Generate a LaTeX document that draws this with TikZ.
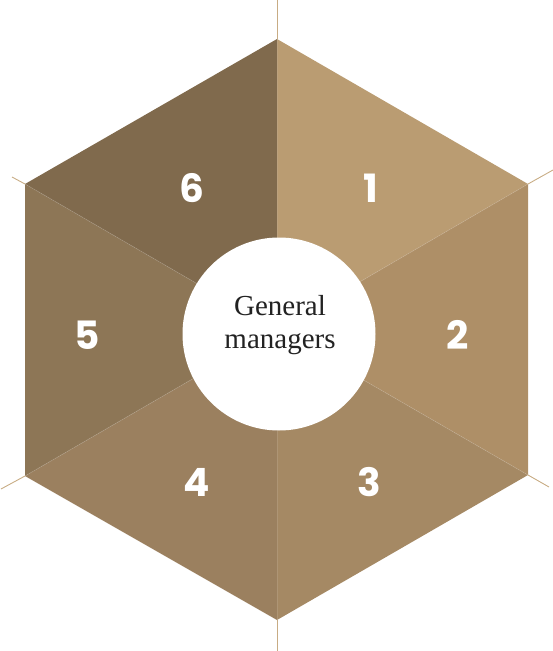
\documentclass[tikz,border=0pt]{standalone}
\usepackage{fontspec}
\setmainfont{Liberation Serif}
\newfontfamily\numfont{Poppins}
\definecolor{cA}{HTML}{BA9C72}
\definecolor{cB}{HTML}{AE8F67}
\definecolor{cC}{HTML}{A58964}
\definecolor{cD}{HTML}{9B805F}
\definecolor{cE}{HTML}{8D7656}
\definecolor{cF}{HTML}{806A4D}
\definecolor{lineC}{HTML}{C8AC84}
\definecolor{txtC}{HTML}{222222}
\tikzset{
  numlabel/.style={text=white, font=\numfont\bfseries\fontsize{39}{39}\selectfont, inner sep=0pt},
  outerline/.style={draw=lineC, line width=0.9pt},
  spoke/.style={draw=white, opacity=0.12, line width=0.8pt},
  centercircle/.style={circle, fill=white, minimum size=193pt, inner sep=0pt},
  centertext/.style={align=center, text=txtC, inner sep=0pt, font=\fontsize{29}{33}\selectfont}
}
\begin{document}
\begin{tikzpicture}[x=1pt,y=-1pt]
\useasboundingbox (0,0) rectangle (553,651);
\coordinate (O) at (277,330);
\coordinate (T) at (277,39);
\coordinate (RU) at (528,184);
\coordinate (RD) at (528,475);
\coordinate (B) at (277,620);
\coordinate (LD) at (25,476);
\coordinate (LU) at (25,184);
\coordinate (eT) at (277,0);
\coordinate (eRU) at (553,170);
\coordinate (eRD) at (549,487);
\coordinate (eB) at (277,651);
\coordinate (eLD) at (1,489);
\coordinate (eLU) at (12,177);
% extension lines
\draw[outerline] (T) -- (eT);
\draw[outerline] (RU) -- (eRU);
\draw[outerline] (RD) -- (eRD);
\draw[outerline] (B) -- (eB);
\draw[outerline] (LD) -- (eLD);
\draw[outerline] (LU) -- (eLU);
% segments
\fill[cA] (O) -- (T) -- (RU) -- cycle;
\fill[cB] (O) -- (RU) -- (RD) -- cycle;
\fill[cC] (O) -- (RD) -- (B) -- cycle;
\fill[cD] (O) -- (B) -- (LD) -- cycle;
\fill[cE] (O) -- (LD) -- (LU) -- cycle;
\fill[cF] (O) -- (LU) -- (T) -- cycle;
% spokes
\draw[spoke] (O) -- (T);
\draw[spoke] (O) -- (RU);
\draw[spoke] (O) -- (RD);
\draw[spoke] (O) -- (B);
\draw[spoke] (O) -- (LD);
\draw[spoke] (O) -- (LU);
% center
\node[centercircle] (gm) at (279,334) {};
\node[centertext] (gmtext) at (280,325) {General\\managers};
% numbers
\node[numlabel] (n1) at (371,188) {1};
\node[numlabel] (n2) at (458,335) {2};
\node[numlabel] (n3) at (369,482) {3};
\node[numlabel] (n4) at (197,482) {4};
\node[numlabel] (n5) at (87,335) {5};
\node[numlabel] (n6) at (192,188) {6};
\end{tikzpicture}
\end{document}
